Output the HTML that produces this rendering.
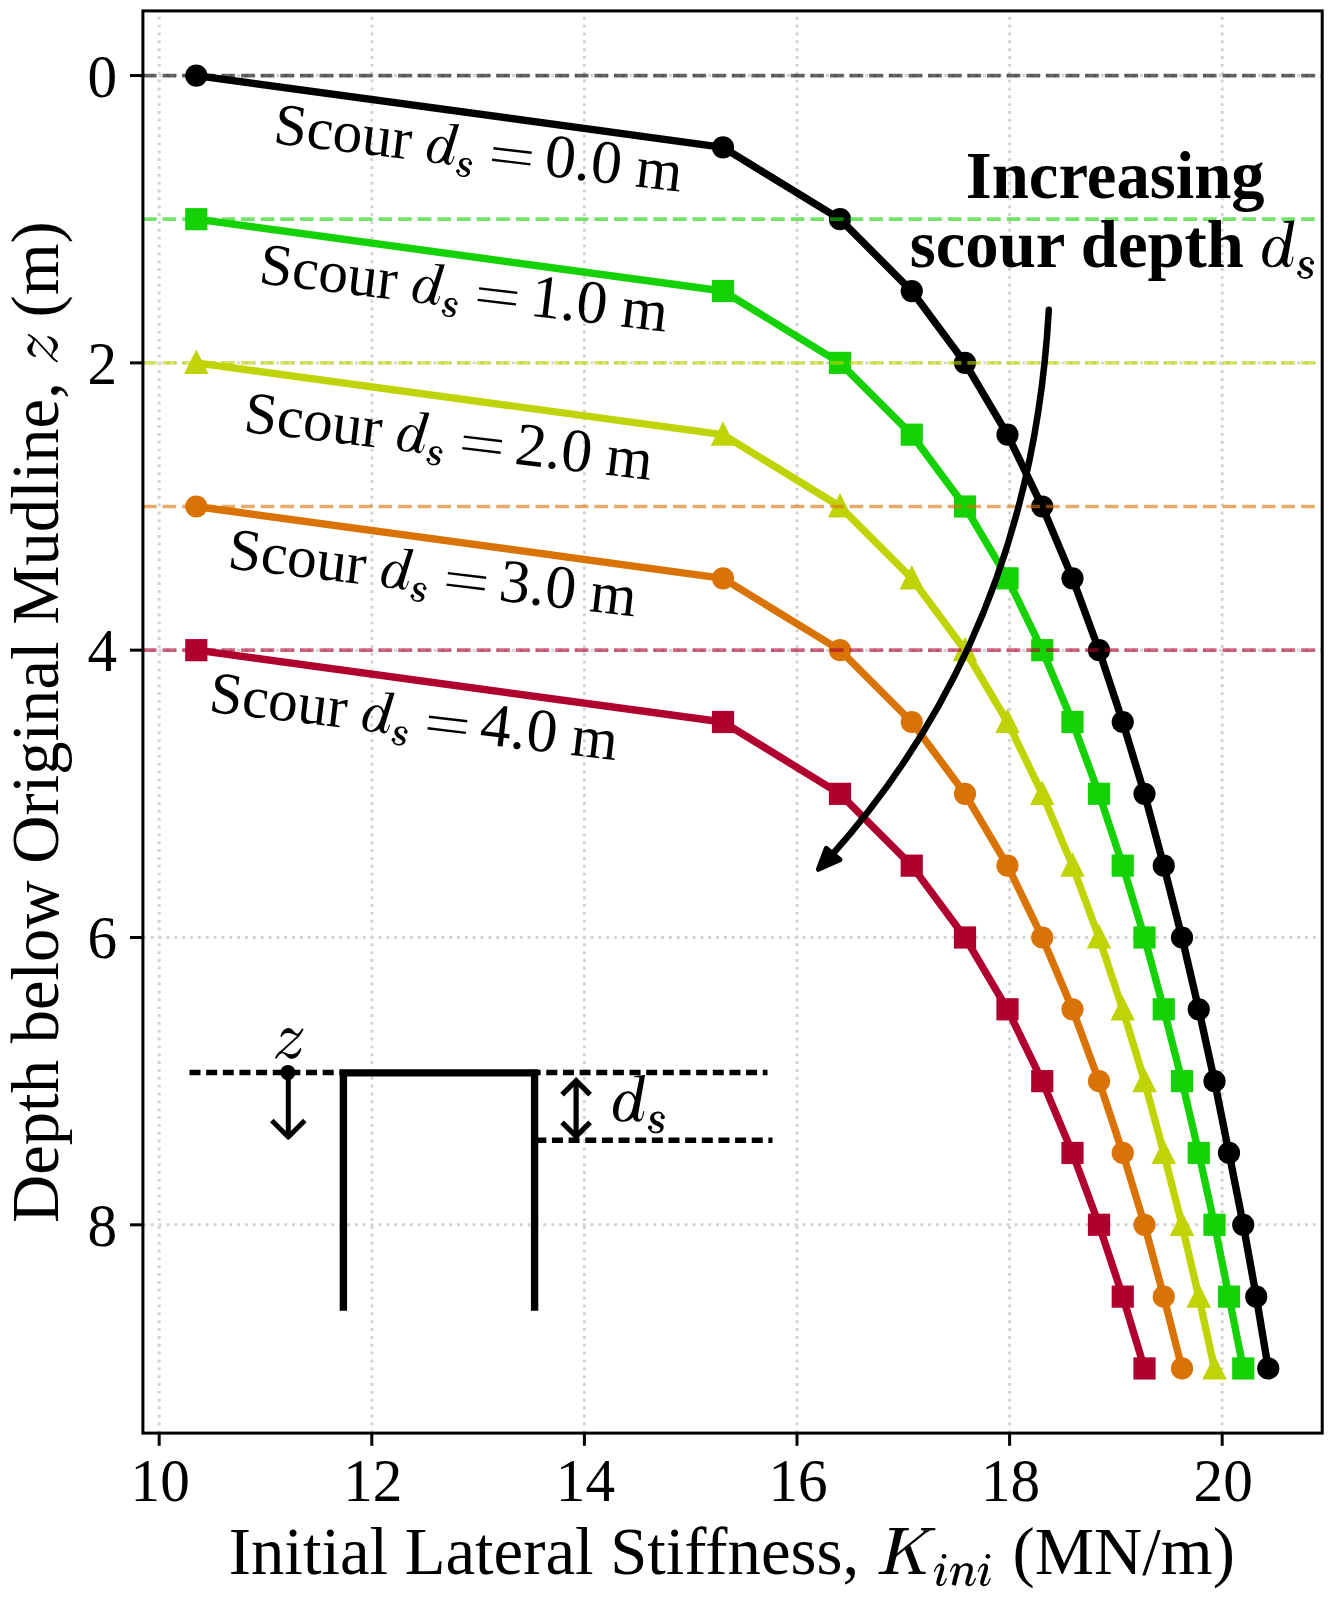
<!DOCTYPE html>
<html><head><meta charset="utf-8"><title>Scour stiffness chart</title>
<style>html,body{margin:0;padding:0;background:#fff;overflow:hidden;}svg{display:block;will-change:transform;}text{font-family:"Liberation Serif",serif;fill:#000;}.i{font-style:italic;}.b{font-weight:bold;}</style></head><body>
<svg width="1333" height="1600" viewBox="0 0 1333 1600">
<rect x="0" y="0" width="1333" height="1600" fill="#ffffff"/>
<defs><path id="gz" d="M378,498 C395,400 480,250 620,245 C720,245 760,340 860,410 C920,430 960,370 1040,250 L1078,285 C1000,420 960,480 900,540 L440,965 C520,975 580,1040 700,1040 C820,1040 930,940 975,845 L1012,862 C990,1000 880,1175 720,1175 C600,1175 560,1060 460,1012 C400,1000 340,1040 250,1178 L212,1140 C300,1000 340,960 411,912 L881,482 C790,450 700,400 600,395 C500,395 440,450 412,512 Z"/><path id="gd" d="M572,224 L568,200 L790,183 L652,960 C640,1030 650,1078 685,1078 C725,1078 740,990 748,915 L772,915 C762,1010 730,1128 650,1128 C590,1128 555,1085 545,1035 C490,1100 410,1130 330,1128 C220,1125 140,1040 140,900 C140,700 280,510 440,510 C520,510 570,560 597,625 L677,232 Z M578,700 C560,620 510,548 440,548 C340,548 250,760 250,950 C250,1040 290,1090 345,1090 C420,1090 500,990 528,900 Z" fill-rule="evenodd"/><path id="gs" d="M1165,989 L1162,985 L1158,981 L1155,976 L1151,972 L1148,967 L1144,962 L1140,957 L1136,953 L1132,948 L1127,943 L1122,939 L1117,935 L1111,932 L1106,930 L1100,928 L1095,926 L1089,924 L1083,923 L1077,922 L1072,922 L1066,921 L1060,921 L1055,921 L1049,921 L1043,921 L1037,921 L1031,922 L1024,923 L1018,924 L1012,925 L1005,926 L998,928 L992,929 L985,931 L979,934 L973,936 L967,939 L961,942 L955,946 L949,949 L943,953 L937,957 L932,962 L926,967 L921,972 L916,978 L911,984 L907,990 L904,997 L900,1003 L898,1010 L895,1017 L893,1025 L891,1032 L890,1040 L889,1049 L889,1057 L890,1066 L891,1075 L893,1084 L896,1093 L900,1102 L904,1110 L909,1118 L914,1125 L919,1132 L925,1139 L931,1146 L937,1153 L943,1159 L949,1165 L956,1171 L964,1177 L973,1183 L981,1187 L989,1191 L997,1195 L1004,1198 L1011,1201 L1018,1203 L1024,1206 L1029,1208 L1033,1210 L1037,1212 L1042,1215 L1048,1218 L1054,1221 L1059,1224 L1064,1227 L1068,1229 L1072,1232 L1076,1234 L1078,1235 L1080,1237 L1082,1237 L1083,1238 L1084,1239 L1086,1240 L1087,1242 L1089,1244 L1091,1246 L1092,1249 L1093,1251 L1095,1254 L1096,1257 L1096,1259 L1097,1262 L1097,1264 L1097,1267 L1096,1270 L1095,1274 L1093,1279 L1090,1283 L1087,1287 L1084,1292 L1081,1296 L1077,1300 L1073,1304 L1069,1308 L1065,1310 L1061,1313 L1057,1315 L1052,1318 L1047,1319 L1041,1321 L1036,1323 L1030,1324 L1024,1325 L1018,1325 L1012,1326 L1006,1326 L1001,1326 L995,1326 L989,1325 L983,1324 L977,1323 L971,1322 L965,1320 L959,1319 L953,1317 L948,1315 L943,1312 L938,1310 L934,1308 L931,1305 L928,1303 L926,1300 L923,1297 L920,1293 L918,1289 L915,1285 L912,1280 L910,1275 L907,1270 L903,1265 L900,1260 L872,1280 L875,1284 L878,1288 L880,1292 L883,1297 L886,1302 L889,1307 L892,1312 L896,1317 L900,1322 L905,1327 L910,1332 L916,1336 L922,1340 L928,1343 L935,1346 L942,1349 L949,1351 L956,1353 L963,1355 L970,1356 L978,1358 L985,1359 L992,1359 L999,1360 L1006,1360 L1013,1360 L1021,1360 L1028,1359 L1035,1359 L1042,1358 L1050,1356 L1057,1355 L1064,1353 L1071,1351 L1078,1348 L1085,1346 L1091,1342 L1098,1339 L1104,1335 L1111,1331 L1117,1326 L1123,1321 L1129,1316 L1134,1311 L1140,1305 L1144,1299 L1149,1293 L1153,1286 L1156,1278 L1159,1271 L1161,1263 L1163,1256 L1164,1248 L1164,1240 L1164,1232 L1163,1224 L1162,1216 L1160,1208 L1157,1200 L1153,1192 L1148,1184 L1143,1177 L1137,1171 L1131,1165 L1124,1160 L1118,1155 L1112,1151 L1106,1147 L1100,1143 L1094,1139 L1089,1136 L1083,1132 L1076,1128 L1068,1124 L1060,1120 L1053,1117 L1046,1115 L1040,1112 L1034,1110 L1028,1107 L1024,1105 L1020,1103 L1016,1101 L1014,1099 L1010,1096 L1006,1093 L1002,1089 L998,1085 L994,1080 L991,1076 L987,1072 L984,1068 L982,1064 L980,1061 L978,1058 L977,1056 L976,1054 L975,1052 L974,1049 L973,1047 L972,1044 L972,1041 L972,1037 L972,1034 L972,1030 L972,1027 L972,1023 L973,1020 L973,1017 L974,1014 L975,1010 L977,1006 L978,1003 L980,999 L983,995 L985,991 L988,987 L991,984 L994,981 L997,978 L1000,975 L1004,973 L1008,970 L1012,968 L1017,966 L1022,964 L1027,962 L1032,961 L1037,960 L1042,958 L1046,958 L1051,957 L1056,957 L1060,956 L1065,956 L1069,956 L1073,957 L1078,957 L1082,958 L1085,959 L1089,960 L1093,961 L1096,963 L1099,965 L1102,966 L1105,969 L1108,972 L1111,975 L1114,979 L1117,983 L1121,987 L1124,992 L1128,997 L1131,1002 L1135,1006 L1139,1011 Z M1102,1032 a44,44 0 1,0 88,0 a44,44 0 1,0 -88,0 Z M846,1243 a44,44 0 1,0 88,0 a44,44 0 1,0 -88,0 Z"/><clipPath id="ax"><rect x="142.9" y="10.9" width="1179.30" height="1422.20"/></clipPath></defs>
<g stroke="#d3d3d3" stroke-width="2.963" stroke-dasharray="2.963 4.889" fill="none" clip-path="url(#ax)">
<line x1="159.20" y1="1433.1" x2="159.20" y2="10.9"/>
<line x1="371.80" y1="1433.1" x2="371.80" y2="10.9"/>
<line x1="584.40" y1="1433.1" x2="584.40" y2="10.9"/>
<line x1="797.00" y1="1433.1" x2="797.00" y2="10.9"/>
<line x1="1009.60" y1="1433.1" x2="1009.60" y2="10.9"/>
<line x1="1222.20" y1="1433.1" x2="1222.20" y2="10.9"/>
<line x1="142.9" y1="75.55" x2="1322.2" y2="75.55"/>
<line x1="142.9" y1="362.86" x2="1322.2" y2="362.86"/>
<line x1="142.9" y1="650.17" x2="1322.2" y2="650.17"/>
<line x1="142.9" y1="937.48" x2="1322.2" y2="937.48"/>
<line x1="142.9" y1="1224.80" x2="1322.2" y2="1224.80"/>
</g>
<g clip-path="url(#ax)" fill="none" stroke-linejoin="round" stroke-linecap="butt">
<polyline points="196.30,75.55 723.00,147.37 840.00,219.20 911.75,291.03 965.00,362.86 1007.50,434.69 1042.25,506.52 1072.50,578.34 1099.00,650.17 1122.75,722.00 1144.50,793.83 1163.75,865.66 1182.00,937.48 1198.75,1009.31 1214.50,1081.14 1229.00,1152.97 1243.25,1224.80 1256.25,1296.63 1268.25,1368.45" stroke="#000000" stroke-width="7.41"/>
<g fill="#000000" stroke="none">
<circle cx="196.30" cy="75.55" r="11.10"/>
<circle cx="723.00" cy="147.37" r="11.10"/>
<circle cx="840.00" cy="219.20" r="11.10"/>
<circle cx="911.75" cy="291.03" r="11.10"/>
<circle cx="965.00" cy="362.86" r="11.10"/>
<circle cx="1007.50" cy="434.69" r="11.10"/>
<circle cx="1042.25" cy="506.52" r="11.10"/>
<circle cx="1072.50" cy="578.34" r="11.10"/>
<circle cx="1099.00" cy="650.17" r="11.10"/>
<circle cx="1122.75" cy="722.00" r="11.10"/>
<circle cx="1144.50" cy="793.83" r="11.10"/>
<circle cx="1163.75" cy="865.66" r="11.10"/>
<circle cx="1182.00" cy="937.48" r="11.10"/>
<circle cx="1198.75" cy="1009.31" r="11.10"/>
<circle cx="1214.50" cy="1081.14" r="11.10"/>
<circle cx="1229.00" cy="1152.97" r="11.10"/>
<circle cx="1243.25" cy="1224.80" r="11.10"/>
<circle cx="1256.25" cy="1296.63" r="11.10"/>
<circle cx="1268.25" cy="1368.45" r="11.10"/>
</g>
<polyline points="196.30,219.20 723.00,291.03 840.00,362.86 911.75,434.69 965.00,506.52 1007.50,578.34 1042.25,650.17 1072.50,722.00 1099.00,793.83 1122.75,865.66 1144.50,937.48 1163.75,1009.31 1182.00,1081.14 1198.75,1152.97 1214.50,1224.80 1229.00,1296.63 1243.25,1368.45" stroke="#14d206" stroke-width="7.41"/>
<g fill="#14d206" stroke="none">
<rect x="185.20" y="208.10" width="22.2" height="22.2"/>
<rect x="711.90" y="279.93" width="22.2" height="22.2"/>
<rect x="828.90" y="351.76" width="22.2" height="22.2"/>
<rect x="900.65" y="423.59" width="22.2" height="22.2"/>
<rect x="953.90" y="495.42" width="22.2" height="22.2"/>
<rect x="996.40" y="567.24" width="22.2" height="22.2"/>
<rect x="1031.15" y="639.07" width="22.2" height="22.2"/>
<rect x="1061.40" y="710.90" width="22.2" height="22.2"/>
<rect x="1087.90" y="782.73" width="22.2" height="22.2"/>
<rect x="1111.65" y="854.56" width="22.2" height="22.2"/>
<rect x="1133.40" y="926.38" width="22.2" height="22.2"/>
<rect x="1152.65" y="998.21" width="22.2" height="22.2"/>
<rect x="1170.90" y="1070.04" width="22.2" height="22.2"/>
<rect x="1187.65" y="1141.87" width="22.2" height="22.2"/>
<rect x="1203.40" y="1213.70" width="22.2" height="22.2"/>
<rect x="1217.90" y="1285.53" width="22.2" height="22.2"/>
<rect x="1232.15" y="1357.35" width="22.2" height="22.2"/>
</g>
<polyline points="196.30,362.86 723.00,434.69 840.00,506.52 911.75,578.34 965.00,650.17 1007.50,722.00 1042.25,793.83 1072.50,865.66 1099.00,937.48 1122.75,1009.31 1144.50,1081.14 1163.75,1152.97 1182.00,1224.80 1198.75,1296.63 1214.50,1368.45" stroke="#c0d305" stroke-width="7.41"/>
<g fill="#c0d305" stroke="none">
<polygon points="196.30,349.46 184.05,373.96 208.55,373.96"/>
<polygon points="723.00,421.29 710.75,445.79 735.25,445.79"/>
<polygon points="840.00,493.12 827.75,517.62 852.25,517.62"/>
<polygon points="911.75,564.94 899.50,589.44 924.00,589.44"/>
<polygon points="965.00,636.77 952.75,661.27 977.25,661.27"/>
<polygon points="1007.50,708.60 995.25,733.10 1019.75,733.10"/>
<polygon points="1042.25,780.43 1030.00,804.93 1054.50,804.93"/>
<polygon points="1072.50,852.26 1060.25,876.76 1084.75,876.76"/>
<polygon points="1099.00,924.08 1086.75,948.58 1111.25,948.58"/>
<polygon points="1122.75,995.91 1110.50,1020.41 1135.00,1020.41"/>
<polygon points="1144.50,1067.74 1132.25,1092.24 1156.75,1092.24"/>
<polygon points="1163.75,1139.57 1151.50,1164.07 1176.00,1164.07"/>
<polygon points="1182.00,1211.40 1169.75,1235.90 1194.25,1235.90"/>
<polygon points="1198.75,1283.23 1186.50,1307.73 1211.00,1307.73"/>
<polygon points="1214.50,1355.05 1202.25,1379.55 1226.75,1379.55"/>
</g>
<polyline points="196.30,506.52 723.00,578.34 840.00,650.17 911.75,722.00 965.00,793.83 1007.50,865.66 1042.25,937.48 1072.50,1009.31 1099.00,1081.14 1122.75,1152.97 1144.50,1224.80 1163.75,1296.63 1182.00,1368.45" stroke="#d97305" stroke-width="7.41"/>
<g fill="#d97305" stroke="none">
<circle cx="196.30" cy="506.52" r="11.10"/>
<circle cx="723.00" cy="578.34" r="11.10"/>
<circle cx="840.00" cy="650.17" r="11.10"/>
<circle cx="911.75" cy="722.00" r="11.10"/>
<circle cx="965.00" cy="793.83" r="11.10"/>
<circle cx="1007.50" cy="865.66" r="11.10"/>
<circle cx="1042.25" cy="937.48" r="11.10"/>
<circle cx="1072.50" cy="1009.31" r="11.10"/>
<circle cx="1099.00" cy="1081.14" r="11.10"/>
<circle cx="1122.75" cy="1152.97" r="11.10"/>
<circle cx="1144.50" cy="1224.80" r="11.10"/>
<circle cx="1163.75" cy="1296.63" r="11.10"/>
<circle cx="1182.00" cy="1368.45" r="11.10"/>
</g>
<polyline points="196.30,650.17 723.00,722.00 840.00,793.83 911.75,865.66 965.00,937.48 1007.50,1009.31 1042.25,1081.14 1072.50,1152.97 1099.00,1224.80 1122.75,1296.63 1144.50,1368.45" stroke="#b0002e" stroke-width="7.41"/>
<g fill="#b0002e" stroke="none">
<rect x="185.20" y="639.07" width="22.2" height="22.2"/>
<rect x="711.90" y="710.90" width="22.2" height="22.2"/>
<rect x="828.90" y="782.73" width="22.2" height="22.2"/>
<rect x="900.65" y="854.56" width="22.2" height="22.2"/>
<rect x="953.90" y="926.38" width="22.2" height="22.2"/>
<rect x="996.40" y="998.21" width="22.2" height="22.2"/>
<rect x="1031.15" y="1070.04" width="22.2" height="22.2"/>
<rect x="1061.40" y="1141.87" width="22.2" height="22.2"/>
<rect x="1087.90" y="1213.70" width="22.2" height="22.2"/>
<rect x="1111.65" y="1285.53" width="22.2" height="22.2"/>
<rect x="1133.40" y="1357.35" width="22.2" height="22.2"/>
</g>
</g>
<g clip-path="url(#ax)" fill="none" stroke-width="3.704" stroke-dasharray="13.704 5.926" opacity="0.6">
<line x1="142.9" y1="75.55" x2="1322.2" y2="75.55" stroke="#000000"/>
<line x1="142.9" y1="219.20" x2="1322.2" y2="219.20" stroke="#14d206"/>
<line x1="142.9" y1="362.86" x2="1322.2" y2="362.86" stroke="#c0d305"/>
<line x1="142.9" y1="506.52" x2="1322.2" y2="506.52" stroke="#d97305"/>
<line x1="142.9" y1="650.17" x2="1322.2" y2="650.17" stroke="#b0002e"/>
</g>
<rect x="142.9" y="10.9" width="1179.30" height="1422.20" fill="none" stroke="#000" stroke-width="3"/>
<g stroke="#000" stroke-width="3">
<line x1="159.20" y1="1433.1" x2="159.20" y2="1445.80"/>
<line x1="371.80" y1="1433.1" x2="371.80" y2="1445.80"/>
<line x1="584.40" y1="1433.1" x2="584.40" y2="1445.80"/>
<line x1="797.00" y1="1433.1" x2="797.00" y2="1445.80"/>
<line x1="1009.60" y1="1433.1" x2="1009.60" y2="1445.80"/>
<line x1="1222.20" y1="1433.1" x2="1222.20" y2="1445.80"/>
<line x1="142.9" y1="75.55" x2="130.00" y2="75.55"/>
<line x1="142.9" y1="362.86" x2="130.00" y2="362.86"/>
<line x1="142.9" y1="650.17" x2="130.00" y2="650.17"/>
<line x1="142.9" y1="937.48" x2="130.00" y2="937.48"/>
<line x1="142.9" y1="1224.80" x2="130.00" y2="1224.80"/>
</g>
<g font-size="62">
<text transform="translate(160.20,1500.9) scale(0.955,1)" text-anchor="middle">10</text>
<text transform="translate(372.80,1500.9) scale(0.955,1)" text-anchor="middle">12</text>
<text transform="translate(585.40,1500.9) scale(0.955,1)" text-anchor="middle">14</text>
<text transform="translate(798.00,1500.9) scale(0.955,1)" text-anchor="middle">16</text>
<text transform="translate(1010.60,1500.9) scale(0.955,1)" text-anchor="middle">18</text>
<text transform="translate(1223.20,1500.9) scale(0.955,1)" text-anchor="middle">20</text>
<text transform="translate(117.0,96.55) scale(0.955,1)" text-anchor="end">0</text>
<text transform="translate(117.0,383.86) scale(0.955,1)" text-anchor="end">2</text>
<text transform="translate(117.0,671.17) scale(0.955,1)" text-anchor="end">4</text>
<text transform="translate(117.0,958.48) scale(0.955,1)" text-anchor="end">6</text>
<text transform="translate(117.0,1245.80) scale(0.955,1)" text-anchor="end">8</text>
</g>
<g font-size="66.7">
<text x="228.8" y="1574.4">Initial Lateral Stiffness,</text>
<g transform="translate(874,1520) scale(0.05252)"><path d="M308,150 L647,150 Q665,150 665,168 L665,179 Q665,197 647,197 L308,197 Q290,197 290,179 L290,168 Q290,150 308,150 Z"/><path d="M402,190 L548,190 L354,992 L230,992 Z"/><path d="M103,985 L447,985 Q465,985 465,1003 L465,1012 Q465,1030 447,1030 L103,1030 Q85,1030 85,1012 L85,1003 Q85,985 103,985 Z"/><path d="M170,990 Q230,985 245,930 L350,930 Q345,985 400,990 Z"/><path d="M470,192 Q410,200 400,250 L535,250 Q545,200 600,192 Z"/><path d="M408,659 L950,225 L1015,225 L408,709 Z"/><path d="M935,195 L1085,195 L1012,232 L945,236 Z"/><path d="M913,150 L1152,150 Q1170,150 1170,168 L1170,179 Q1170,197 1152,197 L913,197 Q895,197 895,179 L895,168 Q895,150 913,150 Z"/><path d="M588,562 L690,480 L884,992 L748,992 Z"/><path d="M673,985 L967,985 Q985,985 985,1003 L985,1012 Q985,1030 967,1030 L673,1030 Q655,1030 655,1012 L655,1003 Q655,985 673,985 Z"/><path d="M690,990 Q745,985 752,950 L868,950 Q880,985 930,990 Z"/></g>
<g transform="translate(928,1546) scale(0.05252)"><path d="M129,497 L133,488 L137,479 L141,469 L145,460 L149,451 L153,442 L157,434 L161,426 L166,419 L170,413 L176,407 L182,400 L188,394 L194,389 L201,384 L207,380 L213,376 L218,374 L222,373 L225,374 L227,375 L229,377 L232,379 L235,382 L237,385 L239,388 L240,391 L240,394 L240,396 L239,397 L239,399 L238,402 L237,406 L236,412 L235,419 L232,427 L230,436 L227,447 L224,458 L220,470 L217,483 L212,498 L207,514 L201,531 L195,549 L189,567 L184,584 L179,601 L174,616 L170,630 L168,641 L165,650 L163,659 L161,667 L160,675 L158,684 L158,692 L158,701 L159,710 L162,720 L166,728 L171,736 L177,743 L184,749 L191,754 L198,758 L206,761 L215,763 L223,764 L231,764 L238,763 L246,762 L254,760 L262,757 L270,754 L279,750 L287,745 L295,740 L302,733 L310,726 L316,717 L322,708 L328,698 L333,687 L338,676 L343,664 L348,653 L353,642 L358,631 L363,620 L341,610 L336,620 L331,632 L326,643 L321,654 L316,666 L311,676 L306,686 L301,695 L296,702 L290,708 L285,713 L279,717 L273,720 L266,723 L260,725 L254,726 L248,727 L242,727 L237,727 L233,726 L231,725 L228,723 L227,721 L225,718 L224,715 L223,713 L223,710 L223,708 L223,706 L224,704 L225,703 L226,702 L226,700 L228,697 L229,692 L231,687 L234,680 L237,671 L240,661 L244,650 L247,638 L252,624 L257,608 L263,591 L269,573 L274,555 L280,537 L285,520 L290,504 L294,490 L297,477 L300,466 L302,455 L305,444 L307,434 L308,423 L309,412 L309,401 L308,390 L305,379 L299,368 L293,358 L285,350 L276,344 L267,339 L257,336 L248,333 L238,332 L229,333 L219,334 L210,338 L202,342 L194,347 L187,353 L180,360 L174,367 L167,374 L161,382 L155,390 L150,397 L144,405 L139,414 L135,423 L131,432 L127,441 L123,451 L119,460 L115,469 L111,478 L107,487 Z"/><path d="M261,197 a44,44 0 1,0 88,0 a44,44 0 1,0 -88,0 Z"/><path d="M436,497 L440,488 L444,479 L448,469 L451,460 L455,451 L459,442 L463,434 L467,426 L471,419 L476,412 L481,406 L486,400 L492,394 L497,388 L503,383 L508,379 L514,376 L518,374 L521,373 L523,374 L524,375 L526,377 L529,379 L531,382 L534,385 L536,389 L538,392 L538,396 L539,398 L538,399 L537,400 L537,402 L536,405 L535,410 L533,415 L531,422 L529,430 L527,440 L524,450 L521,461 L518,473 L514,486 L511,500 L506,516 L502,531 L497,548 L493,564 L488,580 L484,595 L480,610 L477,624 L473,637 L470,650 L467,662 L464,675 L462,687 L459,699 L456,711 L453,723 L450,735 L530,755 L533,742 L536,730 L539,718 L541,706 L544,693 L547,681 L550,669 L553,656 L556,643 L560,630 L563,616 L567,601 L572,586 L576,570 L581,553 L585,537 L589,521 L593,506 L596,492 L599,479 L601,468 L603,457 L605,447 L607,438 L608,428 L609,418 L609,408 L608,398 L606,387 L602,377 L596,367 L589,358 L581,351 L573,345 L564,340 L555,337 L546,334 L536,333 L527,333 L517,334 L508,338 L500,343 L493,348 L487,354 L481,361 L475,368 L469,375 L464,383 L459,390 L454,398 L450,406 L445,414 L441,423 L437,432 L433,442 L429,451 L425,460 L422,469 L418,478 L414,487 Z"/><path d="M574,477 L582,468 L590,459 L597,450 L605,441 L612,432 L619,424 L627,416 L634,408 L641,402 L649,397 L657,393 L665,388 L674,385 L683,382 L691,379 L700,377 L708,376 L716,376 L723,376 L729,377 L735,379 L742,381 L748,384 L754,388 L760,392 L765,396 L769,401 L772,405 L773,408 L774,410 L774,412 L774,416 L775,420 L775,426 L774,433 L773,441 L772,450 L771,460 L769,471 L767,482 L764,494 L761,507 L756,522 L752,538 L746,554 L741,571 L736,587 L731,602 L727,617 L724,629 L721,640 L719,649 L716,658 L714,666 L713,674 L711,682 L710,691 L710,700 L711,710 L714,720 L718,729 L723,737 L729,744 L736,750 L744,754 L751,758 L759,761 L768,763 L776,764 L784,764 L791,763 L799,762 L807,760 L815,757 L823,754 L831,750 L839,745 L847,740 L855,733 L862,726 L868,717 L874,708 L880,698 L885,687 L890,676 L896,664 L901,653 L906,642 L911,631 L916,620 L894,610 L889,620 L884,632 L878,643 L873,654 L868,666 L863,676 L858,686 L853,695 L848,702 L842,708 L837,713 L831,717 L825,720 L819,723 L812,725 L806,726 L800,727 L795,727 L790,727 L786,726 L784,725 L781,723 L779,720 L777,718 L776,715 L775,712 L775,710 L775,707 L775,706 L776,704 L777,704 L778,702 L779,700 L780,697 L782,692 L784,687 L787,679 L790,671 L793,661 L796,651 L800,639 L805,626 L810,612 L816,596 L821,579 L827,562 L833,545 L838,529 L842,513 L845,498 L848,485 L850,472 L851,460 L852,448 L853,435 L853,423 L852,411 L849,398 L845,386 L838,374 L830,363 L820,354 L809,347 L798,341 L787,337 L776,333 L764,331 L753,329 L742,329 L731,329 L720,330 L709,332 L699,335 L689,339 L678,343 L668,348 L659,354 L649,360 L640,366 L631,373 L623,380 L614,389 L607,398 L599,407 L592,416 L585,426 L578,436 L571,445 L565,454 L558,463 Z"/><path d="M964,497 L968,488 L972,479 L976,469 L980,460 L984,451 L988,442 L992,434 L996,426 L1001,419 L1005,413 L1011,407 L1017,400 L1023,394 L1029,389 L1036,384 L1042,380 L1048,376 L1053,374 L1057,373 L1060,374 L1062,375 L1064,377 L1067,379 L1070,382 L1072,385 L1074,388 L1075,391 L1075,394 L1075,396 L1074,397 L1074,399 L1073,402 L1072,406 L1071,412 L1070,419 L1067,427 L1065,436 L1062,447 L1059,458 L1055,470 L1052,483 L1047,498 L1042,514 L1036,531 L1030,549 L1024,567 L1019,584 L1014,601 L1009,616 L1005,630 L1003,641 L1000,650 L998,659 L996,667 L995,675 L993,684 L993,692 L993,701 L994,710 L997,720 L1001,728 L1006,736 L1012,743 L1019,749 L1026,754 L1033,758 L1041,761 L1050,763 L1058,764 L1066,764 L1073,763 L1081,762 L1089,760 L1097,757 L1105,754 L1114,750 L1122,745 L1130,740 L1137,733 L1145,726 L1151,717 L1157,708 L1163,698 L1168,687 L1173,676 L1178,664 L1183,653 L1188,642 L1193,631 L1198,620 L1176,610 L1171,620 L1166,632 L1161,643 L1156,654 L1151,666 L1146,676 L1141,686 L1136,695 L1131,702 L1125,708 L1120,713 L1114,717 L1108,720 L1101,723 L1095,725 L1089,726 L1083,727 L1077,727 L1072,727 L1068,726 L1066,725 L1063,723 L1062,721 L1060,718 L1059,715 L1058,713 L1058,710 L1058,708 L1058,706 L1059,704 L1060,703 L1061,702 L1061,700 L1063,697 L1064,692 L1066,687 L1069,680 L1072,671 L1075,661 L1079,650 L1082,638 L1087,624 L1092,608 L1098,591 L1104,573 L1109,555 L1115,537 L1120,520 L1125,504 L1129,490 L1132,477 L1135,466 L1137,455 L1140,444 L1142,434 L1143,423 L1144,412 L1144,401 L1143,390 L1140,379 L1134,368 L1128,358 L1120,350 L1111,344 L1102,339 L1092,336 L1083,333 L1073,332 L1064,333 L1054,334 L1045,338 L1037,342 L1029,347 L1022,353 L1015,360 L1009,367 L1002,374 L996,382 L990,390 L985,397 L979,405 L974,414 L970,423 L966,432 L962,441 L958,451 L954,460 L950,469 L946,478 L942,487 Z"/><path d="M1096,197 a44,44 0 1,0 88,0 a44,44 0 1,0 -88,0 Z"/></g>
<text x="1012.6" y="1574.4">(MN/m)</text>
</g>
<g transform="translate(57.7,1223) rotate(-90)" font-size="66.7">
<text x="0" y="0">Depth below Original Mudline,</text>
<use href="#gz" transform="translate(860.60,0.40) scale(0.03300) translate(-212,-1178)"/>
<text x="905.5" y="0">(m)</text>
</g>
<g transform="translate(272.2,143.0) rotate(6.8)" font-size="59.3">
<text x="0" y="0">Scour</text>
<use href="#gd" transform="translate(154.80,0.90) scale(0.04401) translate(-140,-1128)"/><use href="#gs" transform="translate(185.87,11.04) scale(0.04401) translate(-846,-1358)"/>
<path d="M220.3,-21 h38.6 M220.3,-9.4 h38.6" stroke="#000" stroke-width="2.4" fill="none"/>
<text x="272.8" y="0"><tspan font-size="61.5">0.0</tspan> m</text>
</g>
<g transform="translate(257.8,283.1) rotate(6.8)" font-size="59.3">
<text x="0" y="0">Scour</text>
<use href="#gd" transform="translate(154.80,0.90) scale(0.04401) translate(-140,-1128)"/><use href="#gs" transform="translate(185.87,11.04) scale(0.04401) translate(-846,-1358)"/>
<path d="M220.3,-21 h38.6 M220.3,-9.4 h38.6" stroke="#000" stroke-width="2.4" fill="none"/>
<text x="272.8" y="0"><tspan font-size="61.5">1.0</tspan> m</text>
</g>
<g transform="translate(242.5,431.4) rotate(6.8)" font-size="59.3">
<text x="0" y="0">Scour</text>
<use href="#gd" transform="translate(154.80,0.90) scale(0.04401) translate(-140,-1128)"/><use href="#gs" transform="translate(185.87,11.04) scale(0.04401) translate(-846,-1358)"/>
<path d="M220.3,-21 h38.6 M220.3,-9.4 h38.6" stroke="#000" stroke-width="2.4" fill="none"/>
<text x="272.8" y="0"><tspan font-size="61.5">2.0</tspan> m</text>
</g>
<g transform="translate(226.6,567.9) rotate(6.8)" font-size="59.3">
<text x="0" y="0">Scour</text>
<use href="#gd" transform="translate(154.80,0.90) scale(0.04401) translate(-140,-1128)"/><use href="#gs" transform="translate(185.87,11.04) scale(0.04401) translate(-846,-1358)"/>
<path d="M220.3,-21 h38.6 M220.3,-9.4 h38.6" stroke="#000" stroke-width="2.4" fill="none"/>
<text x="272.8" y="0"><tspan font-size="61.5">3.0</tspan> m</text>
</g>
<g transform="translate(207.7,711.5) rotate(6.8)" font-size="59.3">
<text x="0" y="0">Scour</text>
<use href="#gd" transform="translate(154.80,0.90) scale(0.04401) translate(-140,-1128)"/><use href="#gs" transform="translate(185.87,11.04) scale(0.04401) translate(-846,-1358)"/>
<path d="M220.3,-21 h38.6 M220.3,-9.4 h38.6" stroke="#000" stroke-width="2.4" fill="none"/>
<text x="272.8" y="0"><tspan font-size="61.5">4.0</tspan> m</text>
</g>
<g font-size="66.7">
<text class="b" x="965.8" y="198.1">Increasing</text>
<text class="b" x="909.8" y="266.9">scour depth</text>
<use href="#gd" transform="translate(1262.20,267.30) scale(0.04950) translate(-140,-1128)"/><use href="#gs" transform="translate(1297.15,278.70) scale(0.04950) translate(-846,-1358)"/>
</g>
<path d="M1048.8,309.7 Q1031,632.1 831,856" fill="none" stroke="#000" stroke-width="6.5" stroke-linecap="round"/>
<polygon points="818.4,869.3 826.3,848.3 840.0,859.7" fill="#000" stroke="#000" stroke-width="5" stroke-linejoin="round"/>
<g fill="none" stroke="#000">
<line x1="189.5" y1="1072.55" x2="343" y2="1072.55" stroke-width="5.4" stroke-dasharray="11 5.65"/>
<line x1="529.65" y1="1072.55" x2="767.5" y2="1072.55" stroke-width="5.4" stroke-dasharray="11 5.65"/>
<line x1="535.3" y1="1140.3" x2="772.5" y2="1140.3" stroke-width="5.4" stroke-dasharray="11 5.65"/>
<polyline points="343.4,1310.75 343.4,1072.9 534.6,1072.9 534.6,1310.75" stroke-width="7.4" stroke-linejoin="miter"/>
<line x1="288.3" y1="1073" x2="288.3" y2="1137" stroke-width="5"/>
<polyline points="271.8,1120.6 288.3,1137.1 304.8,1120.6" stroke-width="5" stroke-linejoin="round"/>
<line x1="576.1" y1="1081" x2="576.1" y2="1136" stroke-width="5.2"/>
<polyline points="562.1,1094.7 576.1,1080.7 590.1,1094.7" stroke-width="5.2" stroke-linejoin="miter"/>
<polyline points="562.1,1122.3 576.1,1136.3 590.1,1122.3" stroke-width="5.2" stroke-linejoin="miter"/>
</g>
<circle cx="287.9" cy="1072.6" r="7.6" fill="#000"/>
<use href="#gz" transform="translate(275.00,1058.90) scale(0.03300) translate(-212,-1178)"/>
<use href="#gd" transform="translate(612.95,1121.85) scale(0.04950) translate(-140,-1128)"/><use href="#gs" transform="translate(647.90,1133.25) scale(0.04950) translate(-846,-1358)"/>
</svg></body></html>
